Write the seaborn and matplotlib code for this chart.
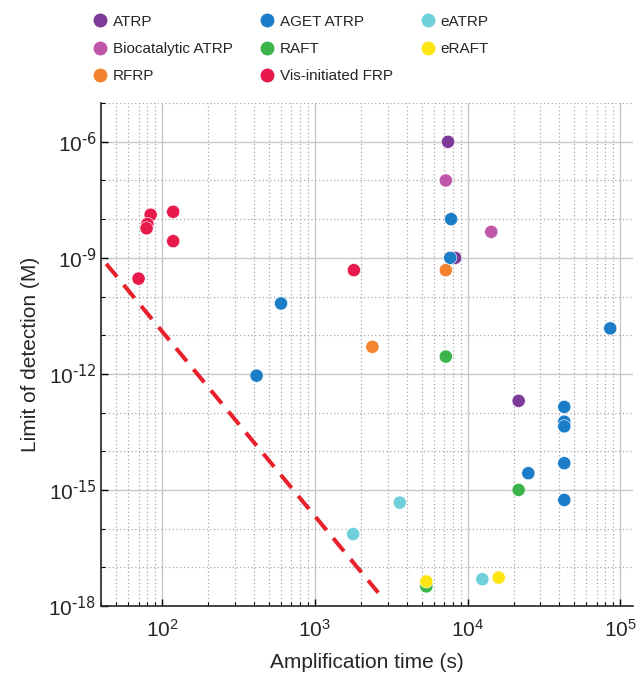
import numpy as np
import pandas as pd
import matplotlib
matplotlib.use("Agg")
import matplotlib.pyplot as plt
import matplotlib.ticker as mticker
import seaborn as sns

# --- data (time in s, LOD in M) ---
atrp_t = [7450, 8300, 21600]
atrp_lod = [1.0e-6, 1.0e-9, 2.0e-13]

bio_atrp_t = [7200, 14300]
bio_atrp_lod = [1.0e-7, 4.7e-9]

rfrp_t = [7200, 2380]
rfrp_lod = [4.8e-10, 5.0e-12]

aget_t = [7800, 7700, 86000, 600, 415, 43000, 43000, 43000, 43000, 43000, 25000]
aget_lod = [1.0e-8, 1.0e-9, 1.5e-11, 6.6e-11, 9.0e-13, 1.4e-13, 5.8e-14, 4.4e-14, 4.9e-15, 5.5e-16, 2.7e-15]

raft_t = [7200, 21600, 5370]
raft_lod = [2.8e-12, 1.0e-15, 3.2e-18]

vis_t = [84, 118, 80, 79, 118, 70, 1800]
vis_lod = [1.3e-8, 1.55e-8, 7.5e-9, 5.8e-9, 2.7e-9, 2.9e-10, 4.8e-10]

eatrp_t = [3600, 1780, 12500]
eatrp_lod = [4.7e-16, 7.2e-17, 4.9e-18]

eraft_t = [5370, 16000]
eraft_lod = [4.3e-18, 5.4e-18]

# dashed trend line endpoints
trend_t = [43, 2600]
trend_lod = [7.0e-10, 2.2e-18]

y_major = [1e-18, 1e-15, 1e-12, 1e-9, 1e-6]
y_major_labels = [r"$10^{\text{-18}}$", r"$10^{\text{-15}}$", r"$10^{\text{-12}}$",
                  r"$10^{\text{-9}}$", r"$10^{\text{-6}}$"]

methods = ["ATRP", "Biocatalytic ATRP", "RFRP", "AGET ATRP", "RAFT",
           "Vis-initiated FRP", "eATRP", "eRAFT"]
colors = ["#7d3a98", "#c056a8", "#f5822f", "#1b7dc8", "#3bb54a",
          "#e8194b", "#6fcfdb", "#fde512"]

groups = [(atrp_t, atrp_lod), (bio_atrp_t, bio_atrp_lod), (rfrp_t, rfrp_lod),
          (aget_t, aget_lod), (raft_t, raft_lod), (vis_t, vis_lod),
          (eatrp_t, eatrp_lod), (eraft_t, eraft_lod)]

rows = []
for name, (t, lod) in zip(methods, groups):
    for a, b in zip(t, lod):
        rows.append({"time": a, "lod": b, "method": name})
df = pd.DataFrame(rows)

sns.set_style("ticks")
plt.rcParams["font.family"] = ["Liberation Sans", "DejaVu Sans"]
plt.rcParams["mathtext.default"] = "regular"
plt.rcParams["axes.unicode_minus"] = False

fig = plt.figure(figsize=(6.38, 6.74), dpi=100)
ax = fig.add_axes([0.159, 0.101, 0.833, 0.746])

ax.set_xscale("log")
ax.set_yscale("log")
ax.set_xlim(40, 1.21e5)
ax.set_ylim(1e-18, 1e-5)

# grid: solid majors, dotted minors
ax.xaxis.set_major_locator(mticker.LogLocator(base=10, numticks=10))
ax.xaxis.set_minor_locator(mticker.LogLocator(base=10, subs=np.arange(2, 10), numticks=20))
ax.xaxis.set_minor_formatter(mticker.NullFormatter())
ax.yaxis.set_major_locator(mticker.FixedLocator(y_major))
ax.yaxis.set_major_formatter(mticker.FixedFormatter(y_major_labels))
ax.yaxis.set_minor_locator(mticker.FixedLocator([10.0 ** k for k in range(-17, -4) if k % 3 != 0]))
ax.yaxis.set_minor_formatter(mticker.NullFormatter())

ax.grid(which="major", color="#c8c8c8", lw=1.0, ls="-")
ax.grid(which="minor", color="#a8a8a8", lw=0.9, ls=(0, (1, 2)))
ax.set_axisbelow(True)

ax.plot(trend_t, trend_lod, color="#e8202a", lw=2.9, ls=(0, (4.2, 2.6)), zorder=2)

sns.scatterplot(data=df, x="time", y="lod", hue="method", hue_order=methods,
                palette=colors, s=90, edgecolor="white", linewidth=0.4,
                ax=ax, zorder=3, legend=False)

for side in ["top", "right"]:
    ax.spines[side].set_visible(False)
ax.spines["left"].set_linewidth(1.2)
ax.spines["bottom"].set_linewidth(1.2)
ax.tick_params(which="both", direction="in", labelsize=15, color="black")
ax.tick_params(which="major", length=5, width=1)
ax.tick_params(which="minor", length=3, width=0.8)
ax.tick_params(axis="x", which="major", pad=9)

ax.set_xlabel("Amplification time (s)", fontsize=15, labelpad=9)
ax.set_ylabel("Limit of detection (M)", fontsize=15, labelpad=6)

handles = [plt.Line2D([], [], marker="o", ls="", markersize=9, color=c) for c in colors]
fig.legend(handles, methods, loc="upper left", bbox_to_anchor=(0.1448, 0.978),
           ncol=3, frameon=False, fontsize=11, handlelength=1.0,
           handletextpad=0.35, columnspacing=1.75, labelspacing=0.86,
           borderpad=0, borderaxespad=0)

fig.savefig("out.png", dpi=100)
